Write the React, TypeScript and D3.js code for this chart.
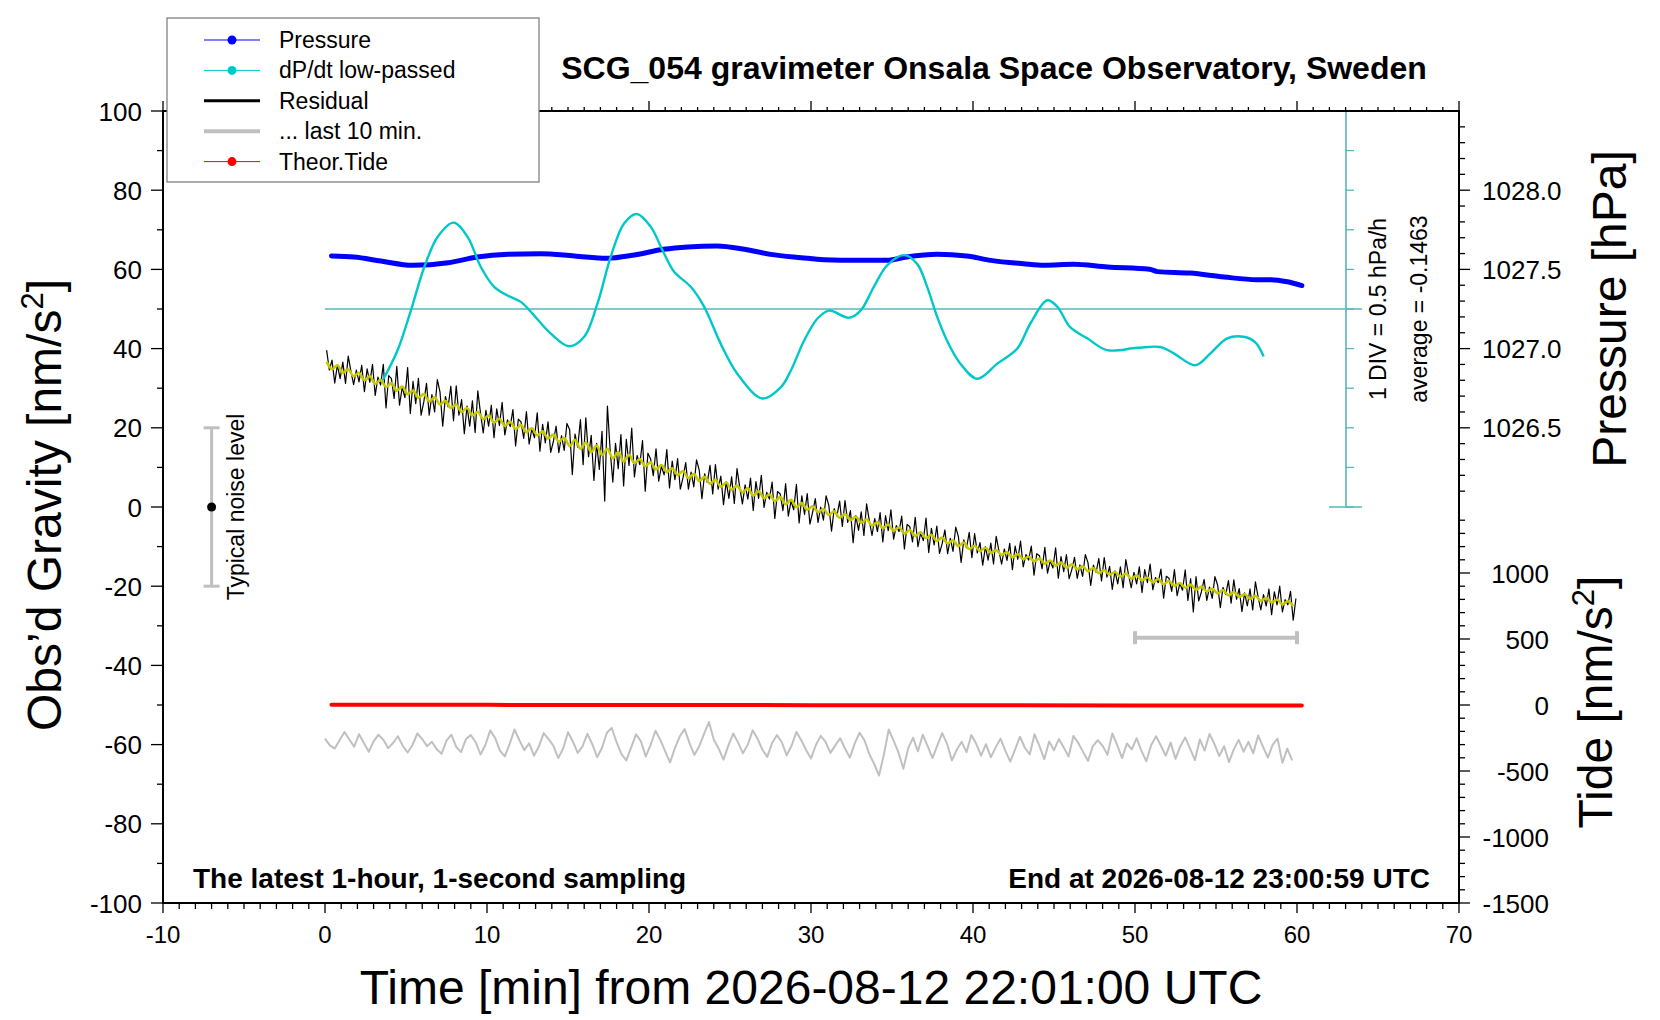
import React from 'react';
import * as d3 from 'd3';

const FONT = '"Liberation Sans", Arial, Helvetica, sans-serif';

// ---------- axis tick values ----------
const timeTicks = [-10, 0, 10, 20, 30, 40, 50, 60, 70];
const gravityTicks = [-100, -80, -60, -40, -20, 0, 20, 40, 60, 80, 100];
const pressureTicks = [1026.5, 1027.0, 1027.5, 1028.0];
const tideTicks = [-1500, -1000, -500, 0, 500, 1000];

// ---------- pressure [hPa] ----------
const pressureMinutes = [0.4, 1.8, 3.45, 5.4, 7.6, 9.4, 11.3, 13.3, 15.4, 17.4, 19.1, 20.9, 22.4, 24.2, 25.9, 27.5, 29.4, 30.8, 32.9, 34.7, 35.9, 37.8, 39.6, 41.1, 43.1, 44.4, 46.2, 48.3, 50.9, 51.4, 53.4, 55.5, 57.5, 58.4, 59.4, 60.3];
const pressureHPa = [1027.585, 1027.578, 1027.553, 1027.526, 1027.542, 1027.578, 1027.595, 1027.599, 1027.585, 1027.570, 1027.591, 1027.627, 1027.642, 1027.648, 1027.627, 1027.595, 1027.574, 1027.561, 1027.557, 1027.557, 1027.578, 1027.595, 1027.585, 1027.557, 1027.536, 1027.526, 1027.532, 1027.515, 1027.501, 1027.486, 1027.477, 1027.452, 1027.435, 1027.435, 1027.422, 1027.398];

// ---------- dP/dt low-passed [hPa/h] ----------
const dpdtMinutes = [3.56, 4.48, 5.3, 6.13, 6.95, 7.94, 8.8, 9.62, 10.44, 11.27, 12.09, 12.9, 13.94, 15.07, 16.0, 16.82, 17.64, 18.46, 19.25, 20.1, 20.93, 21.55, 22.58, 23.4, 24.43, 25.46, 27.0, 28.13, 28.75, 29.57, 30.4, 31.1, 32.34, 33.06, 33.88, 34.7, 35.73, 36.55, 37.17, 37.79, 38.4, 39.22, 40.26, 41.5, 42.73, 43.55, 44.58, 45.2, 46.0, 47.05, 48.28, 50.13, 51.57, 52.39, 53.73, 54.66, 55.69, 56.7, 57.43, 57.94];
const dpdtValues = [-0.90, -0.52, -0.02, 0.53, 0.91, 1.09, 0.91, 0.53, 0.28, 0.17, 0.09, -0.08, -0.31, -0.47, -0.35, 0.07, 0.66, 1.08, 1.20, 1.04, 0.70, 0.47, 0.28, 0.03, -0.44, -0.82, -1.13, -0.99, -0.78, -0.40, -0.12, -0.02, -0.11, -0.02, 0.28, 0.55, 0.68, 0.57, 0.28, -0.10, -0.40, -0.69, -0.88, -0.69, -0.50, -0.18, 0.11, 0.03, -0.23, -0.37, -0.52, -0.49, -0.48, -0.56, -0.71, -0.56, -0.37, -0.35, -0.42, -0.60];

// ---------- residual [nm/s^2], one value every 10 s from t = 0.1 min ----------
const residualStartMin = 0.1;
const residualStepMin = 1 / 6;
const residualValues = [
  39.6, 34.6, 37.1, 31.3, 35.9, 32.4, 36.6, 31.2, 38.1, 34.3, 30.9, 34.6,
  31.6, 35.8, 29.1, 34.9, 31.5, 36.0, 28.2, 32.8, 30.8, 36.0, 25.0, 33.2,
  32.4, 27.4, 35.5, 25.7, 30.3, 27.6, 35.2, 23.6, 31.7, 26.1, 32.5, 23.2,
  26.6, 31.2, 23.2, 28.4, 24.0, 32.2, 29.0, 20.4, 27.9, 25.3, 30.5, 21.8,
  30.6, 23.2, 27.1, 18.5, 25.5, 20.4, 26.8, 18.8, 29.3, 23.7, 18.7, 24.4,
  20.4, 25.7, 17.5, 24.8, 20.6, 26.4, 18.2, 22.0, 20.3, 24.6, 15.4, 22.2,
  21.5, 17.3, 24.1, 15.9, 19.7, 17.5, 23.8, 14.1, 20.9, 16.2, 21.5, 13.8,
  16.6, 20.4, 13.7, 18.0, 14.3, 21.1, 19.6, 8.2, 18.4, 15.1, 22.1, 10.7,
  22.5, 12.7, 18.1, 6.7, 16.1, 9.5, 19.1, 1.5, 25.5, 14.5, 6.3, 16.1,
  9.7, 18.3, 5.3, 17.1, 10.5, 19.9, 7.6, 13.0, 10.7, 16.8, 4.0, 13.6,
  12.1, 7.9, 14.7, 6.5, 10.3, 8.1, 14.5, 4.8, 11.6, 6.9, 12.2, 4.5,
  7.4, 11.2, 4.5, 8.8, 5.1, 11.9, 9.3, 2.1, 8.4, 6.2, 10.5, 3.3,
  10.7, 4.5, 7.8, 0.6, 6.4, 2.2, 7.6, 0.9, 9.7, 5.0, 0.8, 5.6,
  2.0, 7.3, -0.9, 6.4, 2.2, 8.0, -0.1, 3.7, 2.0, 6.3, -2.9, 3.9,
  3.3, -0.9, 5.9, -2.3, 1.5, -0.7, 5.7, -4.0, 2.8, -1.9, 3.4, -4.3,
  -1.3, 2.1, -3.9, 0.0, -3.3, 2.8, 0.4, -6.1, -0.4, -2.3, 1.5, -4.9,
  1.6, -3.9, -0.9, -9.0, -2.2, -5.9, -1.2, -7.2, 0.8, -3.5, -7.2, -2.9,
  -6.2, -1.4, -8.8, -2.2, -6.0, -0.7, -8.1, -4.7, -6.2, -2.3, -10.6, -4.4,
  -5.0, -8.8, -2.6, -10.0, -6.6, -8.5, -2.8, -11.5, -5.4, -9.6, -4.8, -11.7,
  -9.2, -5.8, -11.8, -7.9, -11.2, -5.1, -7.5, -14.0, -8.3, -10.3, -6.4, -12.8,
  -6.7, -11.6, -9.0, -14.7, -10.0, -13.4, -9.1, -14.4, -7.4, -11.1, -14.4, -10.6,
  -13.5, -9.2, -15.8, -9.9, -13.2, -8.6, -15.1, -12.0, -13.4, -9.9, -17.2, -11.8,
  -12.3, -15.6, -10.2, -16.7, -13.6, -15.4, -10.3, -18.0, -12.5, -16.3, -12.0, -18.1,
  -15.8, -12.7, -18.0, -14.6, -17.5, -12.0, -14.1, -19.8, -14.7, -16.5, -13.0, -18.7,
  -12.8, -17.7, -15.0, -20.8, -16.1, -19.4, -15.1, -20.4, -13.3, -17.1, -20.4, -16.5,
  -19.4, -15.1, -21.6, -15.8, -19.1, -14.4, -20.9, -17.8, -19.1, -15.7, -23.0, -17.5,
  -18.0, -21.3, -15.8, -22.4, -19.3, -21.0, -15.9, -23.6, -18.1, -26.5, -17.6, -23.7,
  -21.4, -18.3, -23.6, -20.2, -23.1, -17.6, -19.7, -25.4, -20.3, -22.1, -18.6, -24.3,
  -18.4, -23.3, -20.6, -26.4, -21.7, -25.0, -20.7, -26.0, -18.9, -22.7, -26.0, -22.1,
  -25.0, -20.7, -27.2, -21.4, -24.7, -20.0, -26.5, -23.4, -24.7, -21.3, -28.6, -23.1,
];

// ---------- smoothed residual (yellow), one value every 20 s from t = 0.1 min ----------
const smoothStartMin = 0.1;
const smoothStepMin = 1 / 3;
const smoothValues = [
  36.7, 34.8, 35.8, 33.9, 34.8, 33.0, 33.9, 32.0, 33.0, 31.1, 32.1, 30.3,
  31.3, 29.4, 30.4, 28.5, 29.4, 27.6, 28.5, 26.7, 27.7, 25.9, 26.8, 25.0,
  25.9, 24.0, 25.0, 23.1, 24.0, 22.2, 23.1, 21.3, 22.3, 20.5, 21.5, 19.7,
  20.7, 18.9, 19.9, 18.1, 19.1, 17.3, 18.3, 16.5, 17.5, 15.4, 17.0, 14.7,
  16.3, 13.9, 15.5, 13.1, 14.7, 12.3, 13.9, 11.5, 13.2, 11.1, 12.1, 10.3,
  11.3, 9.5, 10.6, 8.8, 9.8, 8.1, 9.1, 7.3, 8.4, 6.6, 7.6, 5.9,
  6.9, 5.1, 6.2, 4.4, 5.4, 3.7, 4.7, 2.9, 4.0, 2.2, 3.2, 1.5,
  2.5, 0.7, 1.8, 0.0, 1.0, -0.7, 0.2, -1.3, -0.5, -2.0, -1.1, -2.7,
  -1.8, -3.3, -2.5, -4.0, -3.1, -4.7, -3.8, -5.3, -4.5, -6.0, -5.1, -6.7,
  -5.8, -7.3, -6.4, -7.9, -7.0, -8.6, -7.7, -9.2, -8.4, -9.9, -9.0, -10.6,
  -9.8, -11.1, -10.3, -11.6, -10.9, -12.1, -11.4, -12.7, -11.9, -13.2, -12.5, -13.7,
  -13.0, -14.3, -13.5, -14.8, -14.0, -15.3, -14.5, -15.7, -15.0, -16.2, -15.4, -16.7,
  -15.9, -17.1, -16.4, -17.6, -16.8, -18.1, -17.3, -18.5, -17.8, -19.0, -18.2, -19.5,
  -18.7, -19.9, -19.2, -20.4, -19.6, -20.9, -20.1, -21.3, -20.6, -21.8, -21.0, -22.3,
  -21.5, -22.7, -22.0, -23.2, -22.4, -23.7, -22.9, -24.1, -23.4, -24.6, -23.8, -25.0,
];

// ---------- "... last 10 min." trace [nm/s^2], one value every 0.3 min ----------
const last10StepMin = 0.3;
const last10Values = [
  -58.5, -60.2, -61.0, -58.9, -56.8, -58.7, -60.5, -57.4, -59.6, -61.8,
  -59.2, -57.5, -58.8, -60.9, -59.6, -57.9, -60.3, -62.0, -60.1, -57.2,
  -58.6, -60.4, -59.3, -61.2, -62.3, -59.0, -57.5, -60.6, -61.9, -58.6,
  -57.6, -59.4, -62.5, -60.1, -56.4, -58.3, -61.5, -63.0, -59.8, -56.2,
  -58.9, -61.4, -59.7, -62.8, -60.5, -57.1, -58.6, -60.3, -63.4, -61.0,
  -56.9, -59.2, -62.1, -60.4, -57.3, -59.9, -63.2, -60.8, -57.0, -55.8,
  -59.4, -62.4, -64.0, -60.7, -57.4, -59.2, -63.0, -60.1, -56.5, -58.8,
  -61.7, -64.5, -60.9, -57.9, -56.1, -59.6, -62.6, -60.4, -57.3, -54.3,
  -58.8, -61.0, -63.8, -60.2, -57.2, -59.5, -62.2, -60.0, -56.4, -58.5,
  -61.3, -63.1, -59.6, -57.6, -59.4, -62.7, -60.3, -56.8, -58.9, -61.4,
  -63.5, -60.1, -57.8, -59.3, -62.1, -60.2, -58.4, -61.0, -63.3, -59.7,
  -57.0, -58.9, -62.4, -64.9, -67.8, -62.5, -56.2, -59.0, -62.0, -66.1,
  -60.9, -58.3, -61.7, -57.5, -60.4, -63.4, -60.2, -57.1, -59.8, -64.0,
  -61.3, -59.3, -61.9, -57.6, -59.8, -62.8, -59.9, -63.2, -60.7, -58.5,
  -61.6, -64.3, -61.2, -58.0, -60.8, -62.5, -57.4, -60.3, -63.7, -59.2,
  -61.4, -58.6, -60.7, -63.0, -57.8, -59.6, -61.9, -64.1, -60.4, -58.9,
  -60.3, -62.6, -57.2, -60.1, -63.4, -59.7, -61.2, -58.4, -61.6, -64.2,
  -60.1, -57.9, -60.3, -62.8, -59.5, -63.6, -60.4, -58.2, -61.0, -63.9,
  -58.7, -61.5, -57.3, -59.8, -62.9, -60.4, -64.4, -61.2, -58.8, -61.8,
  -59.3, -62.2, -57.7, -60.5, -63.3, -60.0, -58.5, -64.6, -61.0, -64.0,
];

// ---------- theoretical tide [nm/s^2] ----------
const tideMinutes = [0.4, 10, 20, 30, 40, 50, 60.3];
const tideValues = [2, 1, 0, -1, -2, -3, -3];

// ---------- range markers ----------
const noiseLevel = { minute: -7, center: 0, half: 20 };
const last10Range = { from: 50, to: 60, level: -33 };
const dpdtAverage = -0.1463;

const legendItems = [
  { label: 'Pressure', color: '#0000ff', width: 1, dot: true },
  { label: 'dP/dt low-passed', color: '#00c8c8', width: 1, dot: true },
  { label: 'Residual', color: '#000000', width: 3, dot: false },
  { label: '... last 10 min.', color: '#c0c0c0', width: 4, dot: false },
  { label: 'Theor.Tide', color: '#ff0000', width: 1, dot: true },
];

export default function App() {
  const W = 1660;
  const H = 1020;
  const L = 163, R = 1459, T = 111, B = 903;

  const x = d3.scaleLinear().domain([-10, 70]).range([L, R]);
  const yG = d3.scaleLinear().domain([-100, 100]).range([B, T]);
  const yP = d3.scaleLinear().domain([1026, 1028.5]).range([yG(0), T]);
  const yT = d3.scaleLinear().domain([-1500, 0]).range([B, yG(-50)]);
  const yD = d3.scaleLinear().domain([-2.5, 2.5]).range([yG(0), T]);

  const minorTime = d3.range(-10, 70.001, 1);
  const minorGravity = d3.range(-100, 100.001, 10);
  const minorPressure = d3.range(1026.1, 1028.45, 0.1);
  const minorTide = d3.range(-1500, 1400.001, 100);
  const dpdtTicks = yD.ticks(10);

  const pressLine = d3.line<number>()
    .x((_, i) => x(pressureMinutes[i]))
    .y((d) => yP(d))
    .curve(d3.curveMonotoneX);
  const dpdtLine = d3.line<number>()
    .x((_, i) => x(dpdtMinutes[i]))
    .y((d) => yD(d))
    .curve(d3.curveCatmullRom);
  const residLine = d3.line<number>()
    .x((_, i) => x(residualStartMin + i * residualStepMin))
    .y((d) => yG(d));
  const smoothLine = d3.line<number>()
    .x((_, i) => x(smoothStartMin + i * smoothStepMin))
    .y((d) => yG(d))
    .curve(d3.curveMonotoneX);
  const last10Line = d3.line<number>()
    .x((_, i) => x(i * last10StepMin))
    .y((d) => yG(d));
  const tideLine = d3.line<number>()
    .x((_, i) => x(tideMinutes[i]))
    .y((d) => yT(d));

  const dAxisX = 1346;
  const cyanAxis = '#55b8b8';

  return (
    <svg
      width={W}
      height={H}
      viewBox={`0 0 ${W} ${H}`}
      style={{ position: 'absolute', left: 0, top: 0, background: '#fff' }}
      fontFamily={FONT}
    >
      <rect x={0} y={0} width={W} height={H} fill="#fff" />

      {/* dP/dt reference axis */}
      <line x1={x(0)} x2={dAxisX + 16} y1={yD(0)} y2={yD(0)} stroke={cyanAxis} strokeWidth={1.6} />
      <line x1={dAxisX} x2={dAxisX} y1={yD(2.5)} y2={yD(-2.5)} stroke={cyanAxis} strokeWidth={1.6} />
      <line x1={dAxisX - 17} x2={dAxisX + 16} y1={yD(2.5)} y2={yD(2.5)} stroke={cyanAxis} strokeWidth={1.6} />
      <line x1={dAxisX - 17} x2={dAxisX + 16} y1={yD(-2.5)} y2={yD(-2.5)} stroke={cyanAxis} strokeWidth={1.6} />
      {dpdtTicks.map((t) => (
        <line key={`dt${t}`} x1={dAxisX} x2={dAxisX + 8} y1={yD(t)} y2={yD(t)} stroke={cyanAxis} strokeWidth={1.3} />
      ))}
      <text transform={`translate(1386,${yD(0)}) rotate(-90)`} textAnchor="middle" fontSize={23} fill="#000">
        1 DIV = 0.5 hPa/h
      </text>
      <text transform={`translate(1427,${yD(0)}) rotate(-90)`} textAnchor="middle" fontSize={23} fill="#000">
        {`average = ${dpdtAverage}`}
      </text>

      {/* pressure */}
      <path d={pressLine(pressureHPa) || ''} fill="none" stroke="#0000ff" strokeWidth={5} strokeLinecap="round" />

      {/* residual */}
      <path d={residLine(residualValues) || ''} fill="none" stroke="#000" strokeWidth={1.2} strokeLinejoin="round" />
      <path d={smoothLine(smoothValues) || ''} fill="none" stroke="#c8c800" strokeWidth={2.6} />

      {/* dP/dt */}
      <path d={dpdtLine(dpdtValues) || ''} fill="none" stroke="#00c8c8" strokeWidth={2.4} />

      {/* theoretical tide */}
      <path d={tideLine(tideValues) || ''} fill="none" stroke="#ff0000" strokeWidth={4} strokeLinecap="round" />

      {/* last 10 min trace */}
      <path d={last10Line(last10Values) || ''} fill="none" stroke="#c0c0c0" strokeWidth={2} strokeLinejoin="round" />

      {/* last 10 min range bar */}
      <g stroke="#c0c0c0">
        <line x1={x(last10Range.from)} x2={x(last10Range.to)} y1={yG(last10Range.level)} y2={yG(last10Range.level)} strokeWidth={4} />
        <line x1={x(last10Range.from)} x2={x(last10Range.from)} y1={yG(last10Range.level) - 6.5} y2={yG(last10Range.level) + 6.5} strokeWidth={4} />
        <line x1={x(last10Range.to)} x2={x(last10Range.to)} y1={yG(last10Range.level) - 6.5} y2={yG(last10Range.level) + 6.5} strokeWidth={4} />
      </g>

      {/* typical noise level */}
      <g stroke="#c0c0c0" strokeWidth={3}>
        <line x1={x(noiseLevel.minute)} x2={x(noiseLevel.minute)} y1={yG(noiseLevel.half)} y2={yG(-noiseLevel.half)} />
        <line x1={x(noiseLevel.minute) - 8} x2={x(noiseLevel.minute) + 8} y1={yG(noiseLevel.half)} y2={yG(noiseLevel.half)} />
        <line x1={x(noiseLevel.minute) - 8} x2={x(noiseLevel.minute) + 8} y1={yG(-noiseLevel.half)} y2={yG(-noiseLevel.half)} />
      </g>
      <circle cx={x(noiseLevel.minute)} cy={yG(noiseLevel.center)} r={4.5} fill="#000" />
      <text transform={`translate(244,${yG(0)}) rotate(-90)`} textAnchor="middle" fontSize={23} fill="#000">
        Typical noise level
      </text>

      {/* frame */}
      <rect x={L} y={T} width={R - L} height={B - T} fill="none" stroke="#000" strokeWidth={2} />

      {/* bottom axis */}
      {minorTime.map((t) => (
        <line key={`bm${t}`} x1={x(t)} x2={x(t)} y1={B} y2={B + (t % 10 === 0 ? 10 : 6)} stroke="#000" strokeWidth={1.3} />
      ))}
      {timeTicks.map((t) => (
        <text key={`bl${t}`} x={x(t)} y={943} textAnchor="middle" fontSize={24} fill="#000">{t}</text>
      ))}
      {/* top axis */}
      {minorTime.map((t) => (
        <line key={`tm${t}`} x1={x(t)} x2={x(t)} y1={T} y2={T - (t % 10 === 0 ? 10 : 4)} stroke="#000" strokeWidth={1.3} />
      ))}

      {/* left axis */}
      {minorGravity.map((g) => (
        <line key={`lm${g}`} x1={L} x2={L - (g % 20 === 0 ? 12 : 6)} y1={yG(g)} y2={yG(g)} stroke="#000" strokeWidth={1.3} />
      ))}
      {gravityTicks.map((g) => (
        <text key={`ll${g}`} x={142} y={yG(g) + 9.5} textAnchor="end" fontSize={26} fill="#000">{g}</text>
      ))}

      {/* right axis: pressure */}
      {minorPressure.map((p) => {
        const major = Math.abs(p * 2 - Math.round(p * 2)) < 1e-6;
        return <line key={`pm${p.toFixed(1)}`} x1={R} x2={R + (major ? 11 : 6)} y1={yP(p)} y2={yP(p)} stroke="#000" strokeWidth={1.3} />;
      })}
      {pressureTicks.map((p) => (
        <text key={`pl${p}`} x={1482} y={yP(p) + 9.5} textAnchor="start" fontSize={26} fill="#000">{p.toFixed(1)}</text>
      ))}

      {/* right axis: tide */}
      {minorTide.map((t) => (
        <line key={`tdm${t}`} x1={R} x2={R + (t % 500 === 0 ? 11 : 6)} y1={yT(t)} y2={yT(t)} stroke="#000" strokeWidth={1.3} />
      ))}
      {tideTicks.map((t) => (
        <text key={`tdl${t}`} x={1549} y={yT(t) + 9.5} textAnchor="end" fontSize={26} fill="#000">{t}</text>
      ))}

      {/* axis titles */}
      <text transform={`translate(61,${yG(0) - 2}) rotate(-90)`} textAnchor="middle" fontSize={48} fill="#000">
        Obs’d Gravity [nm/s<tspan dy={-18} fontSize={31}>2</tspan><tspan dy={18}>]</tspan>
      </text>
      <text transform={`translate(1626,309) rotate(-90)`} textAnchor="middle" fontSize={48} fill="#000">
        Pressure [hPa]
      </text>
      <text transform={`translate(1612,702) rotate(-90)`} textAnchor="middle" fontSize={48} fill="#000">
        Tide [nm/s<tspan dy={-18} fontSize={31}>2</tspan><tspan dy={18}>]</tspan>
      </text>
      <text x={(L + R) / 2} y={1004} textAnchor="middle" fontSize={48} fill="#000">
        Time [min] from 2026-08-12 22:01:00 UTC
      </text>

      {/* title and notes */}
      <text x={994} y={79} textAnchor="middle" fontSize={32} fontWeight="bold" fill="#000">
        SCG_054 gravimeter Onsala Space Observatory, Sweden
      </text>
      <text x={193} y={888} textAnchor="start" fontSize={28} fontWeight="bold" fill="#000">
        The latest 1-hour, 1-second sampling
      </text>
      <text x={1430} y={888} textAnchor="end" fontSize={28} fontWeight="bold" fill="#000">
        End at 2026-08-12 23:00:59 UTC
      </text>

      {/* legend */}
      <rect x={167} y={18} width={372} height={164} fill="#fff" stroke="#777" strokeWidth={1.2} />
      {legendItems.map((it, i) => {
        const cy = 40 + i * 30.4;
        return (
          <g key={it.label}>
            <line x1={204} x2={260} y1={cy} y2={cy} stroke={it.color} strokeWidth={it.width} />
            {it.dot && <circle cx={232} cy={cy} r={4.5} fill={it.color} />}
            <text x={279} y={cy + 8} fontSize={23} fill="#000">{it.label}</text>
          </g>
        );
      })}
    </svg>
  );
}
